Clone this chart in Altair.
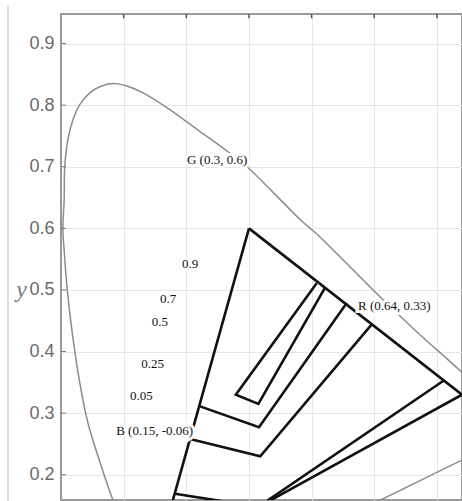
import altair as alt
import pandas as pd

# ---- data ----
# spectral locus (gray curve), left-bottom -> peak -> right
locus_x = [0.094, 0.083, 0.062, 0.043, 0.030, 0.018, 0.010, 0.005, 0.003, 0.005, 0.006,
           0.011, 0.019, 0.030, 0.046, 0.062, 0.083, 0.105, 0.131, 0.169, 0.222, 0.267,
           0.299, 0.339, 0.382, 0.409, 0.450, 0.514, 0.569, 0.640, 0.660]
locus_y = [0.135, 0.159, 0.221, 0.284, 0.349, 0.430, 0.500, 0.565, 0.599, 0.646, 0.700,
           0.744, 0.776, 0.801, 0.820, 0.830, 0.835, 0.831, 0.820, 0.796, 0.757, 0.724,
           0.698, 0.658, 0.614, 0.590, 0.549, 0.484, 0.431, 0.366, 0.345]
# line of purples
purple_x = [0.48, 0.66]
purple_y = [0.144, 0.234]

# gamut polylines
outer_x = [0.30, 0.64, 0.15, 0.30]
outer_y = [0.60, 0.33, 0.055, 0.60]
s005_x = [0.182, 0.315, 0.611]
s005_y = [0.169, 0.148, 0.353]
s025_x = [0.206, 0.318, 0.496]
s025_y = [0.258, 0.230, 0.444]
s05_x = [0.222, 0.316, 0.456]
s05_y = [0.311, 0.277, 0.479]
s09_x = [0.408, 0.279, 0.315, 0.421]
s09_y = [0.511, 0.330, 0.315, 0.503]

# annotations
label_text = ["G (0.3, 0.6)", "R (0.64, 0.33)", "B (0.15, -0.06)", "0.9", "0.7", "0.5", "0.25", "0.05"]
label_x = [0.201, 0.474, 0.088, 0.193, 0.158, 0.145, 0.128, 0.110]
label_y = [0.711, 0.474, 0.271, 0.5425, 0.486, 0.448, 0.380, 0.328]

x_grid = [0.1, 0.2, 0.3, 0.4, 0.5, 0.6]
y_grid = [0.2, 0.3, 0.4, 0.5, 0.6, 0.7, 0.8, 0.9]

XDOM = [0.0, 0.64]
YDOM = [0.159, 0.948]

# ---- tables ----
rows = []
for name, xs_, ys_ in [("outer", outer_x, outer_y), ("s005", s005_x, s005_y),
                       ("s025", s025_x, s025_y), ("s05", s05_x, s05_y), ("s09", s09_x, s09_y)]:
    for i, (a, b) in enumerate(zip(xs_, ys_)):
        rows.append({"shape": name, "i": i, "x": a, "y": b})
gamut = pd.DataFrame(rows)

locus = pd.DataFrame({"i": list(range(len(locus_x))), "x": locus_x, "y": locus_y})
purple = pd.DataFrame({"i": list(range(len(purple_x))), "x": purple_x, "y": purple_y})

labels = pd.DataFrame({"t": label_text, "x": label_x, "y": label_y})

left_ticks = pd.DataFrame({"x": [0.0] * len(y_grid), "x2": [0.008] * len(y_grid), "y": y_grid})
top_ticks = pd.DataFrame({"x": x_grid, "y": [YDOM[1]] * len(x_grid), "y2": [YDOM[1] - 0.007] * len(x_grid)})

xs = alt.Scale(domain=XDOM, nice=False, zero=False)
ys = alt.Scale(domain=YDOM, nice=False, zero=False)

xax = alt.Axis(values=x_grid, grid=True, gridColor="#e6e6e6", gridWidth=1, labels=False,
               ticks=False, domain=False, title=None)
yax = alt.Axis(values=y_grid, grid=True, gridColor="#e6e6e6", gridWidth=1, ticks=False,
               domain=False, labelFont="Liberation Sans", labelFontSize=18, labelColor="#6a6a6a",
               labelPadding=7, format=".1f", title="y", titleFont="Liberation Serif",
               titleFontStyle="italic", titleFontSize=24, titleFontWeight="normal",
               titleColor="#7a7a7a", titleAngle=0, titleX=-40, titleY=282,
               titleAlign="center", titleBaseline="alphabetic")

base_grid = alt.Chart(labels).mark_point(opacity=0).encode(
    x=alt.X("x:Q", scale=xs, axis=xax), y=alt.Y("y:Q", scale=ys, axis=yax))

locus_layer = alt.Chart(locus).mark_line(color="#8c8c8c", strokeWidth=1.5, clip=True,
                                         interpolate="catmull-rom").encode(
    x=alt.X("x:Q", scale=xs), y=alt.Y("y:Q", scale=ys), order="i:Q")
purple_layer = alt.Chart(purple).mark_line(color="#8c8c8c", strokeWidth=1.5, clip=True).encode(
    x=alt.X("x:Q", scale=xs), y=alt.Y("y:Q", scale=ys), order="i:Q")

gamut_layer = alt.Chart(gamut).mark_line(color="#111111", strokeWidth=2.6, clip=True,
                                         strokeJoin="miter").encode(
    x=alt.X("x:Q", scale=xs), y=alt.Y("y:Q", scale=ys), detail="shape:N", order="i:Q")

lt = alt.Chart(left_ticks).mark_rule(color="#777777", strokeWidth=1).encode(
    x=alt.X("x:Q", scale=xs), x2="x2:Q", y=alt.Y("y:Q", scale=ys))
tt = alt.Chart(top_ticks).mark_rule(color="#555555", strokeWidth=1.5).encode(
    x=alt.X("x:Q", scale=xs), y=alt.Y("y:Q", scale=ys), y2="y2:Q")

halo = alt.Chart(labels).mark_text(font="Liberation Serif", fontSize=13, align="left",
                                   baseline="middle", stroke="white", strokeWidth=6,
                                   fill="white").encode(
    x=alt.X("x:Q", scale=xs), y=alt.Y("y:Q", scale=ys), text="t:N")
txt = alt.Chart(labels).mark_text(font="Liberation Serif", fontSize=13, align="left",
                                  baseline="middle", color="#111111").encode(
    x=alt.X("x:Q", scale=xs), y=alt.Y("y:Q", scale=ys), text="t:N")

border = alt.Chart(labels).mark_rule(color="#dddddd", strokeWidth=1).encode(
    x=alt.value(-53), y=alt.value(-9), y2=alt.value(490))

chart = alt.layer(base_grid, border, locus_layer, purple_layer, gamut_layer, lt, tt, halo, txt).properties(
    width=401, height=486,
    autosize=alt.AutoSizeParams(type="none"),
    padding={"left": 61, "top": 14, "right": 0, "bottom": 1},
    background="white",
).configure_view(stroke="#9a9a9a", strokeWidth=2)

chart.save("out.html", embed_options={"renderer": "svg", "actions": False})
